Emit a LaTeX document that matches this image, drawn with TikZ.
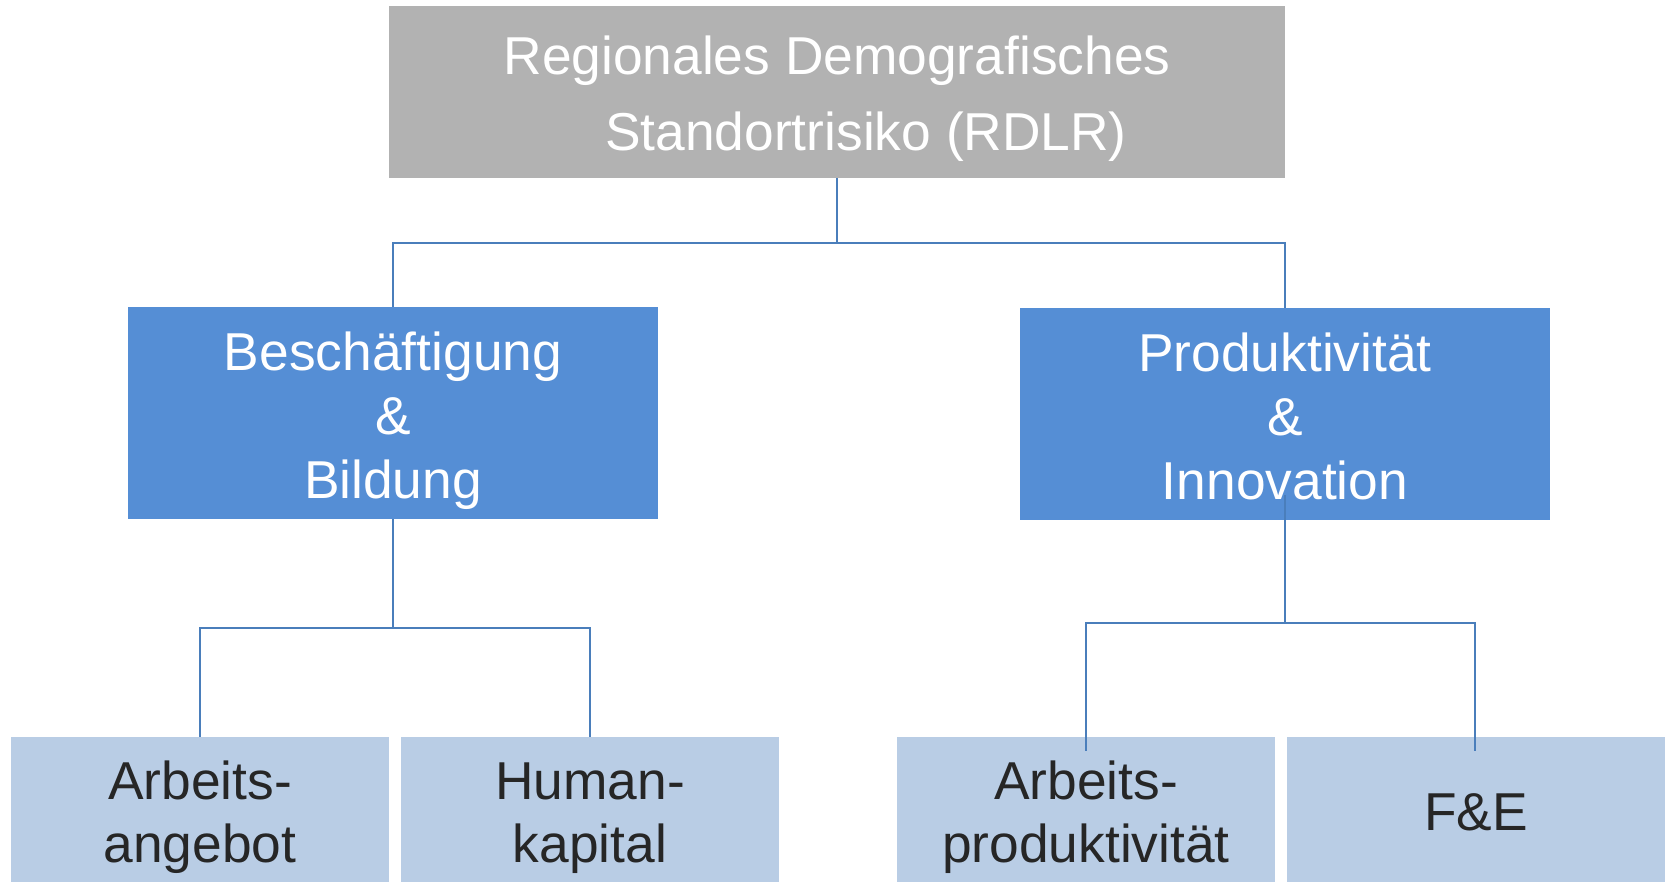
\documentclass[tikz,border=0pt]{standalone}
\usepackage{fontspec}
\setmainfont{Liberation Sans}
\definecolor{topgray}{RGB}{178,178,178}
\definecolor{midblue}{RGB}{85,142,213}
\definecolor{lightblue}{RGB}{185,205,229}
\definecolor{linecol}{RGB}{74,126,187}
\definecolor{darktext}{RGB}{38,38,38}
\begin{document}
\begin{tikzpicture}[x=0.75pt,y=-0.75pt,
  topbox/.style={fill=topgray,draw=none,inner sep=0pt,minimum width=672pt,minimum height=129pt},
  midbox/.style={fill=midblue,draw=none,inner sep=0pt,minimum width=397.5pt,minimum height=159pt},
  lowbox/.style={fill=lightblue,draw=none,inner sep=0pt,minimum width=283.5pt,minimum height=108.75pt},
  wtxt/.style={text=white,inner sep=0pt,align=center,anchor=base,font=\fontsize{40}{48}\selectfont},
  dtxt/.style={text=darktext,inner sep=0pt,align=center,anchor=base,font=\fontsize{40}{47}\selectfont},
  conn/.style={draw=linecol,line width=1.6pt}]
\useasboundingbox[fill=white] (0,0) rectangle (1670,882);
% boxes
\node[topbox] (top) at (837,92) {};
\node[midbox] (bl) at (393,413) {};
\node[midbox] (br) at (1285,414) {};
\node[lowbox] (b1) at (200,809.5) {};
\node[lowbox] (b2) at (590,809.5) {};
\node[lowbox] (b3) at (1086,809.5) {};
\node[lowbox] (b4) at (1476,809.5) {};
% texts
\node[wtxt,font=\fontsize{40}{57}\selectfont] (ttop) at (837,150) {Regionales Demografisches\\\hspace*{43.5pt}Standortrisiko (RDLR)};
\node[wtxt] (tbl) at (393,498) {Beschäftigung\\\&\\Bildung};
\node[wtxt] (tbr) at (1285,499) {Produktivität\\\&\\Innovation};
\node[dtxt] (tb1) at (200,862) {Arbeits-\\angebot};
\node[dtxt] (tb2) at (590,862) {Human-\\kapital};
\node[dtxt] (tb3) at (1086,862) {Arbeits-\\produktivität};
\node[dtxt] (tb4) at (1476,830) {F\&E};
% connectors
\coordinate (j0) at (837,243);
\coordinate (j1) at (393,628);
\coordinate (j2) at (1285,623);
\coordinate (brin) at (1285,495);
\coordinate (e3) at (1086,751);
\coordinate (e4) at (1475,751);
\draw[conn] (top.south) -- (j0) -| (bl.north);
\draw[conn] (j0) -| (br.north);
\draw[conn] (bl.south) -- (j1) -| (b1.north);
\draw[conn] (j1) -| (b2.north);
\draw[conn] (brin) -- (j2) -| (e3);
\draw[conn] (j2) -| (e4);
\end{tikzpicture}
\end{document}
